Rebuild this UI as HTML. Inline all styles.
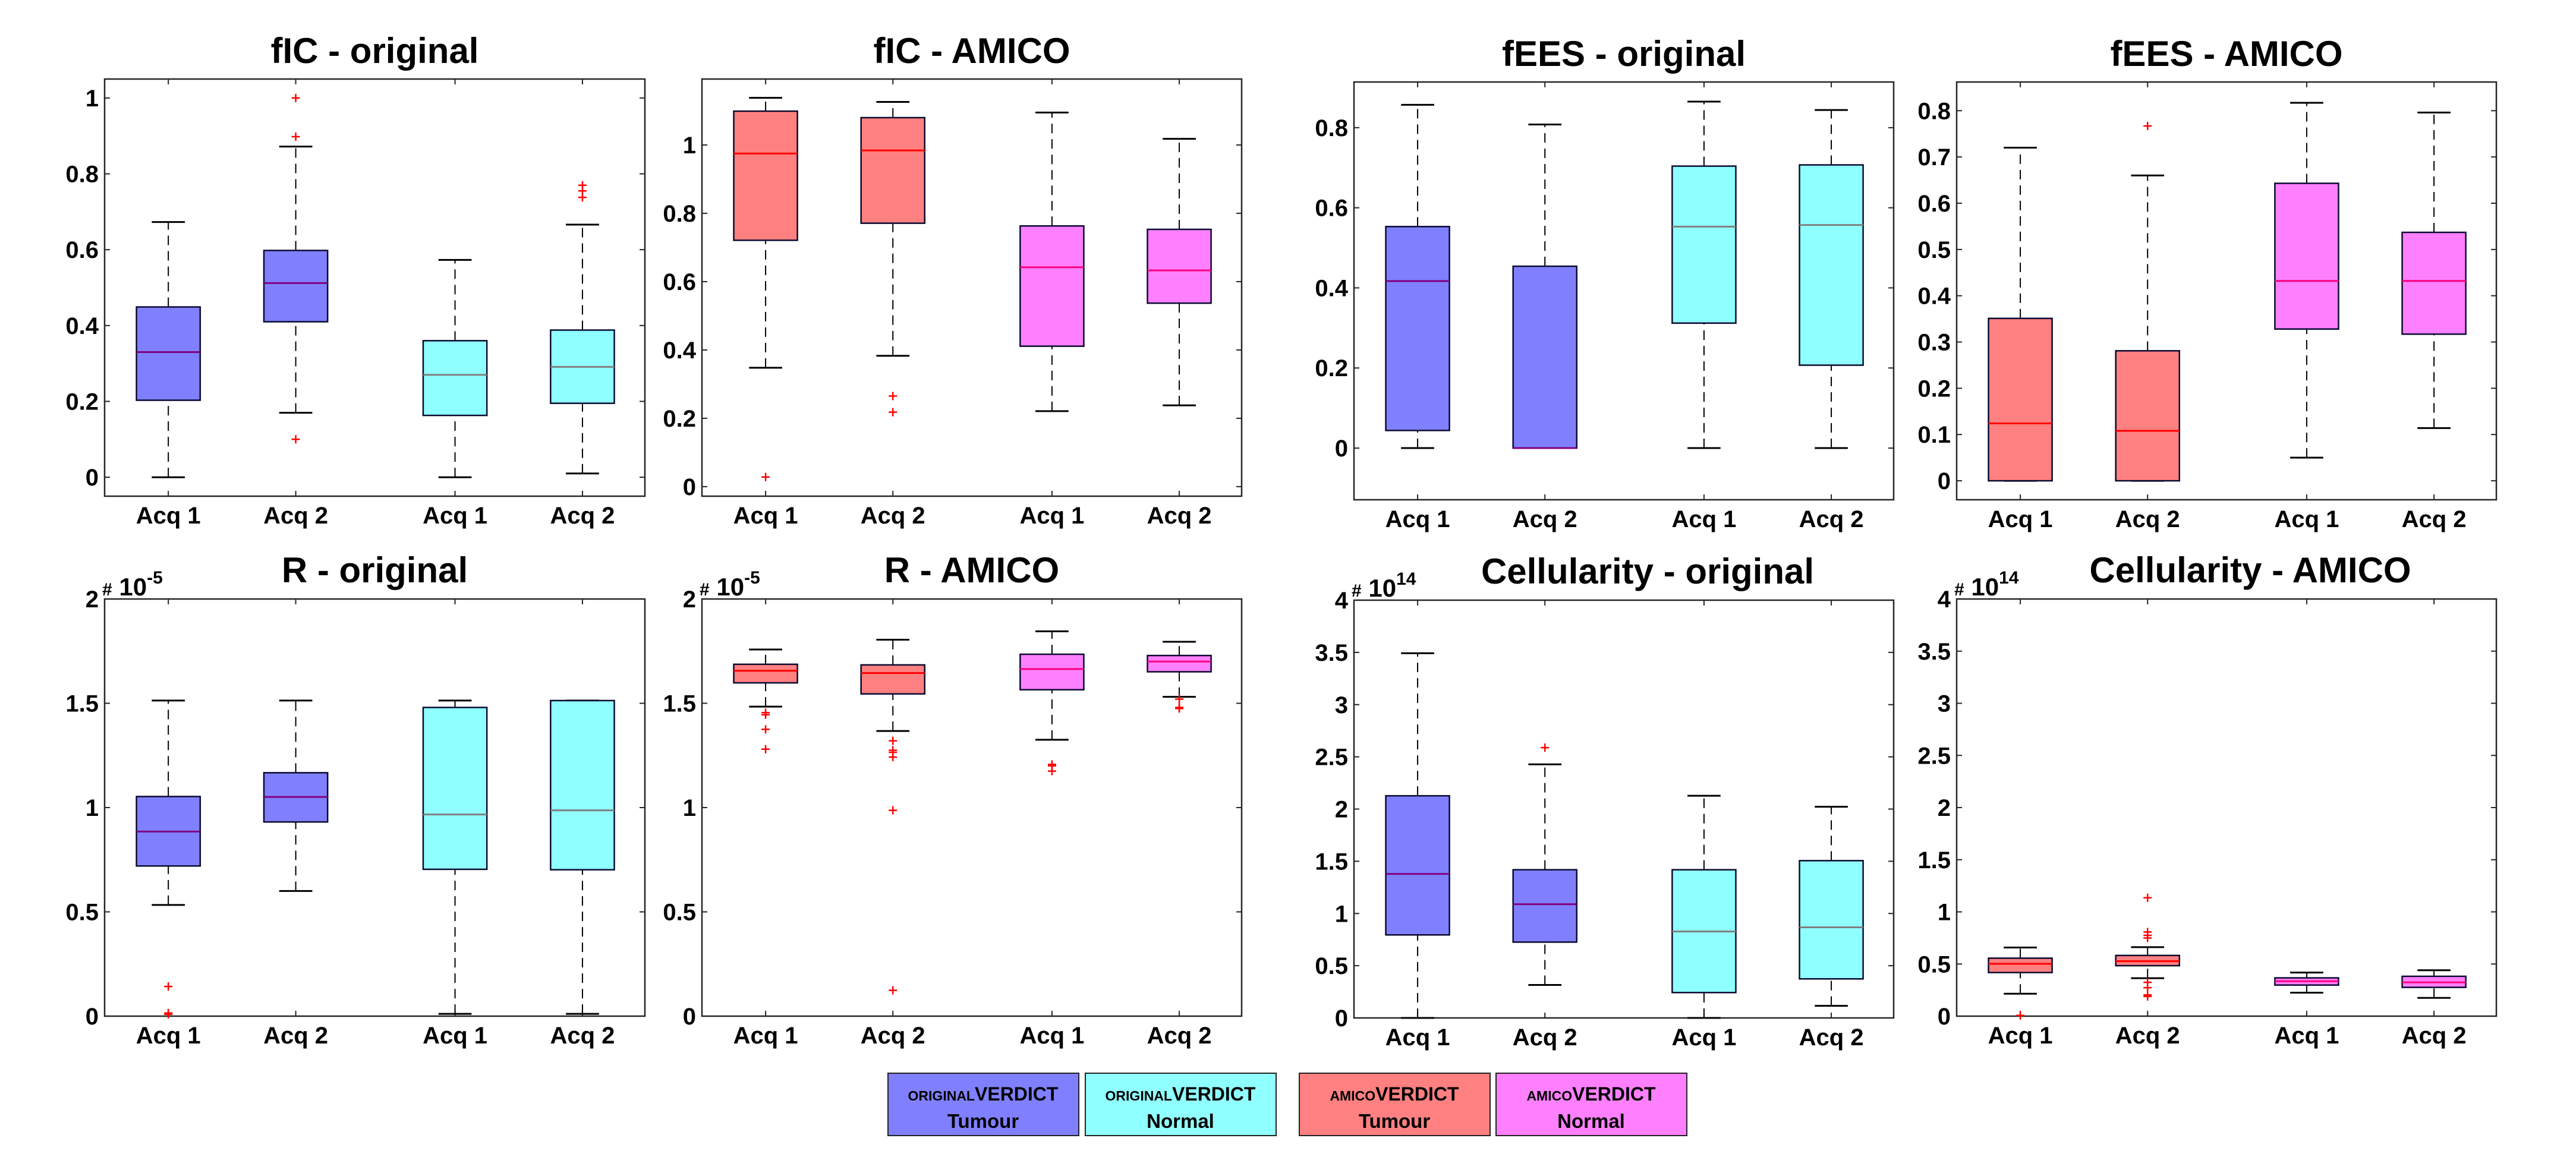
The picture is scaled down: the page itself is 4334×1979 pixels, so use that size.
<!DOCTYPE html>
<html><head><meta charset="utf-8"><style>
html,body{margin:0;padding:0;background:#fff;width:4334px;height:1979px;overflow:hidden}
svg{display:block}
text{font-family:"Liberation Sans",sans-serif;font-weight:bold;fill:#000}
</style></head><body>
<svg id="chart" width="4334" height="1979" viewBox="0 0 4334 1979" xmlns="http://www.w3.org/2000/svg">
<g id="panels"></g>
<g id="legend">
  <g>
    <rect x="1494" y="1806" width="321" height="105" fill="#8080FF" stroke="#222" stroke-width="2"/>
    <text x="1654" y="1852" text-anchor="middle" font-size="32"><tspan font-size="23">ORIGINAL</tspan>VERDICT</text>
    <text x="1654" y="1898" text-anchor="middle" font-size="33">Tumour</text>
  </g>
  <g>
    <rect x="1826" y="1806" width="321" height="105" fill="#90FFFF" stroke="#222" stroke-width="2"/>
    <text x="1986" y="1852" text-anchor="middle" font-size="32"><tspan font-size="23">ORIGINAL</tspan>VERDICT</text>
    <text x="1986" y="1898" text-anchor="middle" font-size="33">Normal</text>
  </g>
  <g>
    <rect x="2186" y="1806" width="321" height="105" fill="#FF8080" stroke="#222" stroke-width="2"/>
    <text x="2346" y="1852" text-anchor="middle" font-size="32"><tspan font-size="23">AMICO</tspan>VERDICT</text>
    <text x="2346" y="1898" text-anchor="middle" font-size="33">Tumour</text>
  </g>
  <g>
    <rect x="2517" y="1806" width="321" height="105" fill="#FF80FF" stroke="#222" stroke-width="2"/>
    <text x="2677" y="1852" text-anchor="middle" font-size="32"><tspan font-size="23">AMICO</tspan>VERDICT</text>
    <text x="2677" y="1898" text-anchor="middle" font-size="33">Normal</text>
  </g>
</g>
</svg>
<script>
// ---- data: [low whisker, q1, median, q3, high whisker] per group ----
const categories = ["Acq 1", "Acq 2", "Acq 1", "Acq 2"];
const positions = [1, 2, 3.25, 4.25];
const ficOrigStats = [[0,0.203,0.33,0.449,0.673],[0.17,0.41,0.512,0.598,0.872],[0,0.163,0.27,0.36,0.573],[0.01,0.195,0.291,0.388,0.666]];
const ficOrigOut = [[],[1.0,0.898,0.1],[],[0.77,0.755,0.738]];
const ficAmicoStats = [[0.348,0.721,0.975,1.099,1.138],[0.383,0.771,0.984,1.080,1.126],[0.221,0.411,0.642,0.763,1.095],[0.238,0.537,0.633,0.753,1.018]];
const ficAmicoOut = [[0.028],[0.265,0.218],[],[]];
const feesOrigStats = [[0,0.044,0.417,0.553,0.857],[0,0,0,0.454,0.808],[0,0.312,0.553,0.704,0.865],[0,0.207,0.557,0.707,0.844]];
const feesOrigOut = [[],[],[],[]];
const feesAmicoStats = [[0,0,0.124,0.351,0.72],[0,0,0.108,0.281,0.66],[0.05,0.328,0.432,0.643,0.817],[0.114,0.317,0.432,0.537,0.796]];
const feesAmicoOut = [[],[0.767],[],[]];
const rOrigStats = [[0.533,0.72,0.885,1.053,1.513],[0.6,0.931,1.051,1.167,1.513],[0.011,0.704,0.967,1.48,1.513],[0.011,0.702,0.987,1.513,1.513]];
const rOrigOut = [[0.142,0.015,0.009],[],[],[]];
const rAmicoStats = [[1.484,1.598,1.656,1.687,1.758],[1.367,1.545,1.645,1.684,1.805],[1.325,1.565,1.664,1.735,1.845],[1.531,1.651,1.7,1.729,1.795]];
const rAmicoOut = [[1.455,1.445,1.375,1.28],[1.32,1.275,1.265,1.242,0.987,0.124],[1.207,1.2,1.175],[1.52,1.48,1.475]];
const cellOrigStats = [[0,0.795,1.379,2.127,3.492],[0.316,0.726,1.089,1.419,2.428],[0,0.243,0.828,1.419,2.127],[0.116,0.374,0.868,1.506,2.022]];
const cellOrigOut = [[],[2.588],[],[]];
const cellAmicoStats = [[0.215,0.418,0.502,0.556,0.658],[0.364,0.484,0.527,0.582,0.662],[0.225,0.298,0.335,0.367,0.418],[0.175,0.276,0.324,0.382,0.44]];
const cellAmicoOut = [[0.007],[1.135,0.807,0.775,0.749,0.324,0.273,0.204,0.189],[],[]];
const ticksFic = ["0","0.2","0.4","0.6","0.8","1"];
const ticksFees = ["0","0.2","0.4","0.6","0.8"];
const ticksFeesAmico = ["0","0.1","0.2","0.3","0.4","0.5","0.6","0.7","0.8"];
const ticksR = ["0","0.5","1","1.5","2"];
const ticksCell = ["0","0.5","1","1.5","2","2.5","3","3.5","4"];

const ORIG = [["#8080FF","#800080"],["#8080FF","#800080"],["#90FFFF","#808080"],["#90FFFF","#808080"]];
const AMICO = [["#FF8080","#FF0000"],["#FF8080","#FF0000"],["#FF80FF","#FF0080"],["#FF80FF","#FF0080"]];

const panels = [
 {name:"fic-original",title:"fIC - original",x0:176,x1:1085,y0:133,y1:835,ymin:-0.05,ymax:1.05,ticks:ticksFic,stats:ficOrigStats,out:ficOrigOut,col:ORIG},
 {name:"fic-amico",title:"fIC - AMICO",x0:1181,x1:2089,y0:133,y1:835,ymin:-0.028,ymax:1.193,ticks:ticksFic,stats:ficAmicoStats,out:ficAmicoOut,col:AMICO},
 {name:"fees-original",title:"fEES - original",x0:2278,x1:3186,y0:138,y1:841,ymin:-0.129,ymax:0.914,ticks:ticksFees,stats:feesOrigStats,out:feesOrigOut,col:ORIG},
 {name:"fees-amico",title:"fEES - AMICO",x0:3292,x1:4200,y0:138,y1:841,ymin:-0.041,ymax:0.862,ticks:ticksFeesAmico,stats:feesAmicoStats,out:feesAmicoOut,col:AMICO},
 {name:"r-original",title:"R - original",x0:176,x1:1085,y0:1008,y1:1710,ymin:0,ymax:2,ticks:ticksR,stats:rOrigStats,out:rOrigOut,col:ORIG,exp:"-5"},
 {name:"r-amico",title:"R - AMICO",x0:1181,x1:2089,y0:1008,y1:1710,ymin:0,ymax:2,ticks:ticksR,stats:rAmicoStats,out:rAmicoOut,col:AMICO,exp:"-5"},
 {name:"cellularity-original",title:"Cellularity - original",x0:2278,x1:3186,y0:1010,y1:1713,ymin:0,ymax:4,ticks:ticksCell,stats:cellOrigStats,out:cellOrigOut,col:ORIG,exp:"14"},
 {name:"cellularity-amico",title:"Cellularity - AMICO",x0:3292,x1:4200,y0:1008,y1:1710,ymin:0,ymax:4,ticks:ticksCell,stats:cellAmicoStats,out:cellAmicoOut,col:AMICO,exp:"14"}
];
const NS="http://www.w3.org/2000/svg";
function mk(tag,attrs,parent){const e=document.createElementNS(NS,tag);for(const k in attrs)e.setAttribute(k,attrs[k]);parent.appendChild(e);return e;}
const root=document.getElementById("panels");
panels.forEach(p=>{
  const g=mk("g",{},root);
  
  
  const sx=v=>p.x0+(v-0.5)/(4.74-0.5)*(p.x1-p.x0);
  const sy=v=>p.y1-(v-p.ymin)/(p.ymax-p.ymin)*(p.y1-p.y0);
  const bw=(p.x1-p.x0)*0.5/4.24, cw=bw*0.52;
  const t=mk("text",{x:(p.x0+p.x1)/2+(p.exp==="14"?40:0),y:p.exp?(p.y0-28):(p.y0-27),"text-anchor":"middle","font-size":"60"},g);
  t.textContent=p.title;
  
  
  if(p.exp){
    const e=mk("text",{x:p.x0-4,y:p.y0-6,"font-size":"42"},g);
    
    
    e.innerHTML='<tspan font-size="30">#</tspan> 10<tspan font-size="30" dy="-20">'+p.exp+'</tspan>';
  }
  const ax=mk("rect",{x:p.x0,y:p.y0,width:p.x1-p.x0,height:p.y1-p.y0,fill:"none",stroke:"#262626","stroke-width":"2.5"},g);
  
  
  p.ticks.forEach(lbl=>{
    const v=parseFloat(lbl), y=sy(v);
    mk("line",{x1:p.x0,x2:p.x0+9,y1:y,y2:y,stroke:"#262626","stroke-width":"2"},g);
    mk("line",{x1:p.x1-9,x2:p.x1,y1:y,y2:y,stroke:"#262626","stroke-width":"2"},g);
    const tl=mk("text",{x:p.x0-10,y:y+14,"text-anchor":"end","font-size":"40"},g);
    tl.textContent=lbl;
    
    
  });
  categories.forEach((c,i)=>{
    const x=sx(positions[i]);
    mk("line",{x1:x,x2:x,y1:p.y1,y2:p.y1-9,stroke:"#262626","stroke-width":"2"},g);
    mk("line",{x1:x,x2:x,y1:p.y0,y2:p.y0+9,stroke:"#262626","stroke-width":"2"},g);
    const xl=mk("text",{x:x,y:p.y1+46,"text-anchor":"middle","font-size":"40"},g);
    xl.textContent=c;
    
    
  });
  p.stats.forEach((s,i)=>{
    const x=sx(positions[i]);
    const bg=mk("g",{},g);
    
    
    mk("line",{x1:x,x2:x,y1:sy(s[0]),y2:sy(s[1]),stroke:"#000","stroke-width":"2","stroke-dasharray":"16,10"},bg);
    mk("line",{x1:x,x2:x,y1:sy(s[3]),y2:sy(s[4]),stroke:"#000","stroke-width":"2","stroke-dasharray":"16,10"},bg);
    mk("line",{x1:x-cw/2,x2:x+cw/2,y1:sy(s[0]),y2:sy(s[0]),stroke:"#000","stroke-width":"3"},bg);
    mk("line",{x1:x-cw/2,x2:x+cw/2,y1:sy(s[4]),y2:sy(s[4]),stroke:"#000","stroke-width":"3"},bg);
    const b=mk("rect",{x:x-bw/2,y:sy(s[3]),width:bw,height:Math.max(0.5,sy(s[1])-sy(s[3])),fill:p.col[i][0],stroke:"#0a0a30","stroke-width":"2.5"},bg);
    
    
    mk("line",{x1:x-bw/2,x2:x+bw/2,y1:sy(s[2]),y2:sy(s[2]),stroke:p.col[i][1],"stroke-width":"3"},bg);
    p.out[i].forEach(o=>{
      const y=sy(o);
      const pl=mk("path",{d:`M${x-7},${y}H${x+7}M${x},${y-7}V${y+7}`,stroke:"#FF0000","stroke-width":"2.5",fill:"none"},bg);
      
      
    });
  });
});
</script>
</body></html>
